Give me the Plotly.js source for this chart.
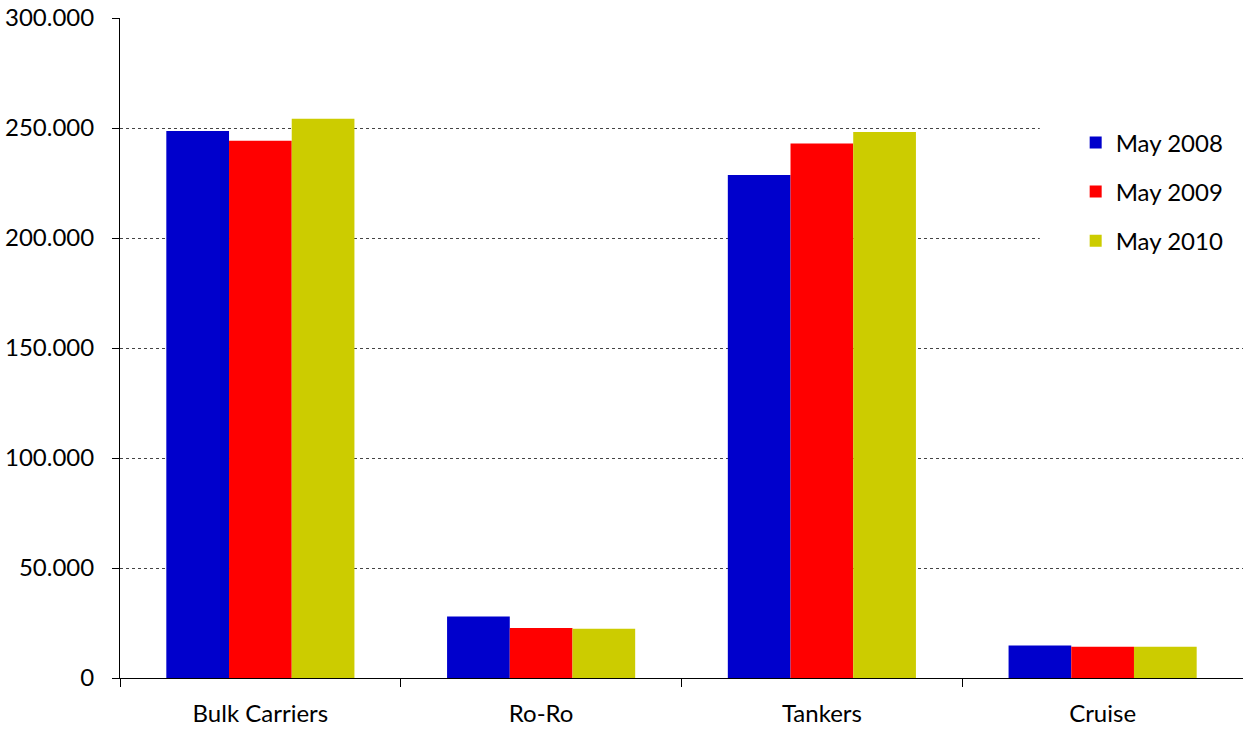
<!DOCTYPE html>
<html>
<head>
<meta charset="utf-8">
<script src="https://cdn.plot.ly/plotly-3.0.1.min.js"></script>
<style>
  html, body { margin: 0; padding: 0; background: #fff; }
  #chart { width: 1243px; height: 729px; }
</style>
</head>
<body>
<div id="chart"></div>
<script>
// Ship categories and deadweight figures per survey month
const categories = ["Bulk Carriers", "Ro-Ro", "Tankers", "Cruise"];
const may2008 = [248600, 27900, 228600, 14800];
const may2009 = [244200, 22700, 243000, 14200];
const may2010 = [254200, 22400, 248200, 14200];
const seriesNames = ["May 2008", "May 2009", "May 2010"];
const seriesColors = ["#0000CC", "#FF0000", "#CCCC00"];
const yTicks = [0, 50000, 100000, 150000, 200000, 250000, 300000];

const seriesValues = [may2008, may2009, may2010];
const traces = seriesValues.map((vals, i) => ({
  type: "bar",
  name: seriesNames[i],
  x: categories,
  y: vals,
  legendgroup: "g" + i,
  marker: { color: seriesColors[i], line: { width: 0 } },
  hoverinfo: "x+y+name"
}));

const fontFamily = "Lato, 'Open Sans', 'DejaVu Sans', sans-serif";

const layout = {
  width: 1243,
  height: 729,
  margin: { l: 120, r: 0, t: 18, b: 51 },
  paper_bgcolor: "#fff",
  plot_bgcolor: "#fff",
  separators: ",.",
  font: { family: fontFamily, size: 23, color: "#000" },
  barmode: "group",
  bargap: 0.33,
  bargroupgap: 0,
  showlegend: true,
  legend: {
    x: 0.851, y: 0.845, xanchor: "left", yanchor: "top",
    bgcolor: "rgba(0,0,0,0)",
    font: { family: fontFamily, size: 24, color: "#000" },
    traceorder: "grouped",
    tracegroupgap: 15,
    itemwidth: 30
  },
  // white panel behind the legend hides the gridlines there
  shapes: [{
    type: "rect", layer: "above",
    xref: "paper", yref: "paper",
    x0: 0.819, x1: 1.0, y0: 0.63, y1: 0.865,
    fillcolor: "#fff", line: { width: 0 }
  }],
  xaxis: {
    type: "category",
    showline: true,
    linecolor: "#000",
    linewidth: 1,
    ticks: "outside",
    tickson: "boundaries",
    ticklen: 8,
    tickcolor: "#000",
    showgrid: false,
    ticklabelstandoff: 14,
    tickfont: { family: fontFamily, size: 24, color: "#000" },
    fixedrange: true
  },
  yaxis: {
    range: [0, 300000],
    tickvals: yTicks,
    tickformat: ",.0f",
    showline: true,
    linecolor: "#000",
    linewidth: 1,
    ticks: "outside",
    ticklen: 7,
    tickcolor: "#000",
    showgrid: true,
    gridcolor: "#444",
    gridwidth: 1,
    griddash: "dot",
    zeroline: false,
    ticklabelstandoff: 13,
    tickfont: { family: fontFamily, size: 24, color: "#000" },
    fixedrange: true
  }
};

Plotly.newPlot("chart", traces, layout, { displayModeBar: false });
</script>
</body>
</html>
